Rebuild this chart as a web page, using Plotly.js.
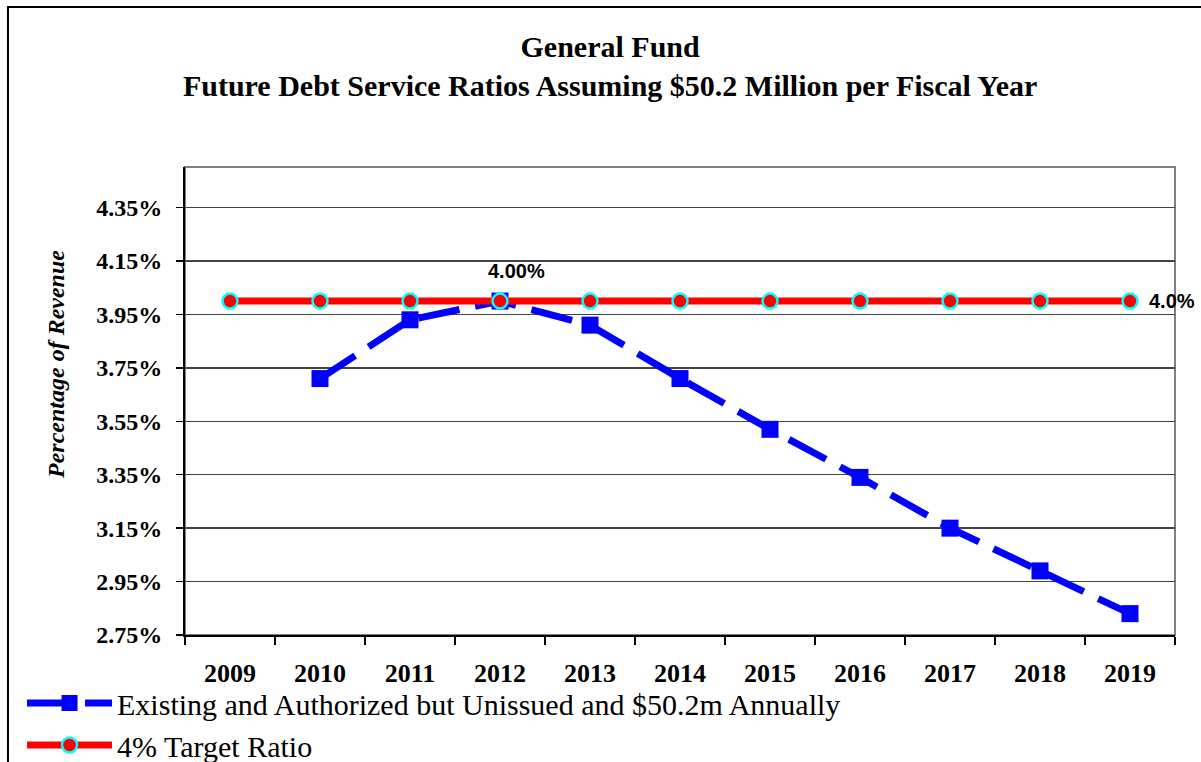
<!DOCTYPE html>
<html>
<head>
<meta charset="utf-8">
<script src="https://cdn.plot.ly/plotly-3.0.1.min.js"></script>
<style>
html,body{margin:0;padding:0;background:#fff;}
#chart{width:1201px;height:762px;}
</style>
</head>
<body>
<div id="chart"></div>
<script>
// Data
var years = ['2009','2010','2011','2012','2013','2014','2015','2016','2017','2018','2019'];
var existingYears = ['2010','2011','2012','2013','2014','2015','2016','2017','2018','2019'];
var existingValues = [3.71, 3.93, 4.00, 3.91, 3.71, 3.52, 3.34, 3.15, 2.99, 2.83];
var targetValues = [4.0, 4.0, 4.0, 4.0, 4.0, 4.0, 4.0, 4.0, 4.0, 4.0, 4.0];
var yTickVals = [2.75, 2.95, 3.15, 3.35, 3.55, 3.75, 3.95, 4.15, 4.35];
var yTickText = ['2.75%', '2.95%', '3.15%', '3.35%', '3.55%', '3.75%', '3.95%', '4.15%', '4.35%'];
var seriesNames = ['Existing and Authorized but Unissued and $50.2m Annually', '4% Target Ratio'];
var peakLabel = '4.00%';
var targetLabel = '4.0%';

var serif = '"Liberation Serif", "Times New Roman", serif';
var sans = '"Liberation Sans", Arial, sans-serif';

var traces = [
  {
    x: existingYears, y: existingValues, name: seriesNames[0],
    type: 'scatter', mode: 'lines+markers',
    line: {color: '#0000FF', width: 7, dash: '42px,16px'},
    marker: {symbol: 'square', size: 17, color: '#0000FF'},
    cliponaxis: false
  },
  {
    x: years, y: targetValues, name: seriesNames[1],
    type: 'scatter', mode: 'lines+markers',
    line: {color: '#FF0000', width: 7},
    marker: {symbol: 'circle', size: 15, color: '#FF0000', line: {color: '#00FFFF', width: 2.5}},
    cliponaxis: false
  }
];

var peakIdx = existingValues.indexOf(Math.max.apply(null, existingValues));

var layout = {
  width: 1201, height: 762,
  paper_bgcolor: '#fff', plot_bgcolor: '#fff',
  margin: {l: 185, r: 26, t: 167, b: 127, autoexpand: false},
  showlegend: true,
  title: {
    text: '<b>General Fund<br>Future Debt Service Ratios Assuming $50.2 Million per Fiscal Year</b>',
    font: {family: serif, size: 30, color: '#000'},
    x: 0.508, xref: 'container', xanchor: 'center',
    y: 0.925, yref: 'container', yanchor: 'middle'
  },
  xaxis: {
    type: 'category', categoryorder: 'array', categoryarray: years,
    range: [-0.5, 10.5],
    showgrid: false, zeroline: false,
    showline: true, linecolor: '#000', linewidth: 2,
    ticks: 'outside', tickson: 'boundaries', ticklen: 8, tickcolor: '#000', tickwidth: 1.5,
    tickfont: {family: serif, size: 26, color: '#000', weight: 'bold'},
    ticklabelstandoff: 14
  },
  yaxis: {
    range: [2.75, 4.502],
    tickmode: 'array', tickvals: yTickVals, ticktext: yTickText,
    showgrid: true, gridcolor: '#444', gridwidth: 1.5,
    zeroline: false,
    showline: true, linecolor: '#000', linewidth: 2,
    ticks: 'outside', ticklen: 7, tickcolor: '#000', tickwidth: 1.5,
    tickfont: {family: serif, size: 24, color: '#000', weight: 'bold'},
    ticklabelstandoff: 9
  },
  legend: {
    x: -0.1646, xanchor: 'left', y: -0.0897, yanchor: 'top',
    orientation: 'v',
    font: {family: serif, size: 30, color: '#000'},
    bgcolor: 'rgba(0,0,0,0)', borderwidth: 0,
    tracegroupgap: 0, itemwidth: 85
  },
  shapes: [
    {type: 'rect', xref: 'paper', yref: 'paper', x0: 0, x1: 1, y0: 0, y1: 1,
     line: {color: '#808080', width: 2}, layer: 'below'},
    {type: 'rect', xref: 'paper', yref: 'paper', x0: -0.1788, x1: 1.06, y0: -0.4, y1: 1.3419,
     line: {color: '#000', width: 2}, layer: 'above'}
  ],
  annotations: [
    {x: 3, y: existingValues[peakIdx], xref: 'x', yref: 'y',
     text: '<b>' + peakLabel + '</b>', showarrow: false,
     xshift: 16, yshift: 30, font: {family: sans, size: 20, color: '#000'}},
    {x: 10, y: targetValues[targetValues.length - 1], xref: 'x', yref: 'y',
     text: '<b>' + targetLabel + '</b>', showarrow: false,
     xanchor: 'left', xshift: 17, yshift: 0, font: {family: sans, size: 20, color: '#000'}},
    {x: -0.1303, y: 0.577, xref: 'paper', yref: 'paper',
     text: '<b><i>Percentage of Revenue</i></b>', showarrow: false, textangle: -90,
     xanchor: 'center', yanchor: 'middle', font: {family: serif, size: 24, color: '#000'}}
  ]
};

Plotly.newPlot('chart', traces, layout, {displayModeBar: false, staticPlot: true});
</script>
</body>
</html>
